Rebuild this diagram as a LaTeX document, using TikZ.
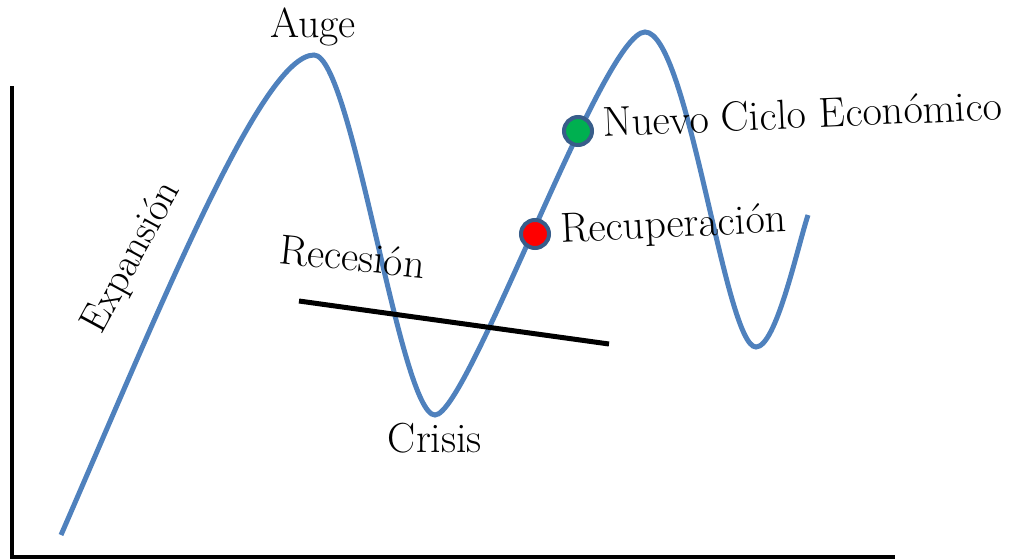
\documentclass[tikz,border=0pt]{standalone}
\usepackage{fontspec}
\usepackage{tikz}
\definecolor{curveblue}{HTML}{4F81BD}
\definecolor{dotborder}{HTML}{385D8A}
\definecolor{dotgreen}{HTML}{00B050}
\definecolor{dotred}{HTML}{FF0000}
\tikzset{
  lbl/.style={font=\fontsize{42}{48}\selectfont, inner sep=0pt},
  cycle/.style={draw=curveblue, line width=5pt},
  axis/.style={draw=black, line width=4.5pt},
  trend/.style={draw=black, line width=5pt},
  dot/.style={circle, draw=dotborder, line width=4pt, minimum size=28pt, inner sep=0pt}
}
\begin{document}
\begin{tikzpicture}[x=1pt,y=-1pt]
\useasboundingbox (0,0) rectangle (1013,560);
% axes
\coordinate (ytop) at (12,86);
\coordinate (orig) at (12,557);
\coordinate (xend) at (895,557);
\draw[axis] (ytop) -- (orig) -- (xend);
% business cycle curve
\coordinate (start) at (61,535);
\coordinate (auge) at (314,55);
\coordinate (crisis) at (435,415);
\coordinate (peak2) at (645,32);
\coordinate (trough2) at (756,347);
\coordinate (finish) at (808,215);
\draw[cycle] (start) .. controls (161,305) and (262,55) .. (auge)
  .. controls (352,55) and (400,415) .. (crisis)
  .. controls (468,415) and (603,32) .. (peak2)
  .. controls (688,32) and (725,347) .. (trough2)
  .. controls (776,347) and (797,249) .. (finish);
% recession trend line
\coordinate (rs) at (299,301);
\coordinate (re) at (609,344);
\draw[trend] (rs) -- (re);
% dots
\node[dot, fill=dotred] (recdot) at (535,234) {};
\node[dot, fill=dotgreen] (newdot) at (578,131) {};
% labels
\node[lbl, anchor=base] (tauge) at (313,37) {Auge};
\node[lbl, anchor=base] (tcrisis) at (435,452) {Crisis};
\node[lbl, font=\fontsize{40}{46}\selectfont, anchor=base west, rotate=61.5] (texp) at (101,336) {Expansión};
\node[lbl, anchor=base west, rotate=-6] (trec) at (278,263) {Recesión};
\node[lbl, anchor=base west, rotate=2.8] (trecup) at (561,243) {Recuperación};
\node[lbl, anchor=base west, rotate=2.5] (tnuevo) at (603,137) {Nuevo Ciclo Económico};
\end{tikzpicture}
\end{document}
